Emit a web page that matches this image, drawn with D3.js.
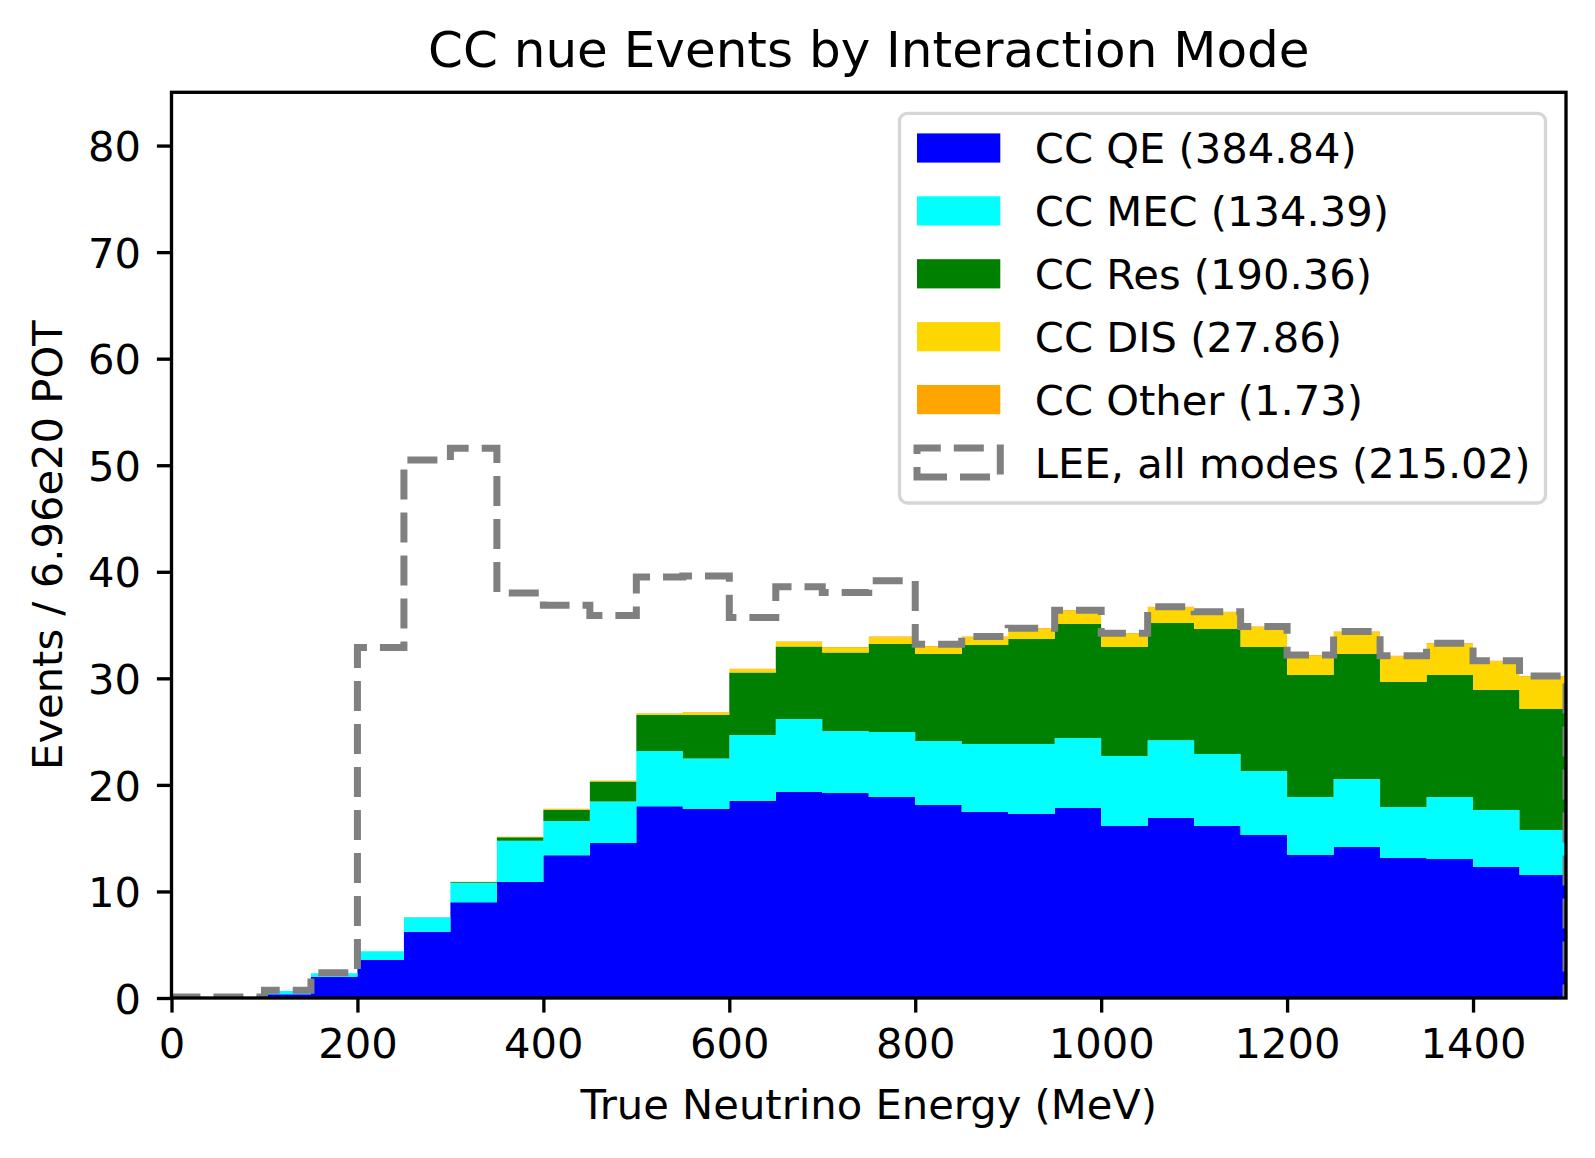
<!DOCTYPE html>
<html>
<head>
<meta charset="utf-8">
<script src="https://cdn.jsdelivr.net/npm/d3@7"></script>
<style>
  body { margin: 0; background: #fff; }
  text { font-family: "DejaVu Sans", sans-serif; fill: #000; }
</style>
</head>
<body>
<div id="chart"></div>
<script>
// bin edges (MeV), 50 MeV bins
var binLo = [0, 50, 100, 150, 200, 250, 300, 350, 400, 450, 500, 550, 600, 650, 700,
             750, 800, 850, 900, 950, 1000, 1050, 1100, 1150, 1200, 1250, 1300, 1350, 1400, 1450];
var binWidth = 50;

// events per bin for each interaction mode
var qe    = [0, 0, 0.35, 2.00, 3.57, 6.21, 8.98, 10.88, 13.40, 14.55, 18.00, 17.77, 18.52, 19.34, 19.24,
             18.87, 18.12, 17.46, 17.27, 17.83, 16.15, 16.90, 16.15, 15.30, 13.42, 14.17, 13.14, 13.05, 12.30, 11.55];
var mec   = [0, 0, 0.30, 0.32, 0.81, 1.37, 1.83, 3.88, 3.20, 3.88, 5.17, 4.70, 6.17, 6.85, 5.82,
             6.10, 6.00, 6.38, 6.57, 6.57, 6.57, 7.30, 6.75, 6.00, 5.45, 6.39, 4.79, 5.82, 5.35, 4.22];
var res   = [0, 0, 0, 0, 0, 0, 0.07, 0.33, 1.07, 1.90, 3.39, 4.09, 5.85, 6.79, 7.36,
             8.26, 8.17, 9.30, 9.86, 10.70, 10.23, 11.00, 11.74, 11.65, 11.45, 11.73, 11.73, 11.45, 11.26, 11.36];
var dis   = [0, 0, 0, 0, 0, 0, 0.01, 0.03, 0.05, 0.05, 0.11, 0.23, 0.31, 0.40, 0.46,
             0.61, 0.67, 0.70, 0.92, 1.22, 1.20, 1.45, 1.54, 1.83, 1.80, 2.02, 2.39, 2.89, 2.67, 3.02];
var other = [0, 0, 0, 0, 0, 0.02, 0.02, 0.02, 0.03, 0.03, 0.06, 0.06, 0.06, 0.07, 0.07,
             0.08, 0.08, 0.08, 0.08, 0.08, 0.08, 0.08, 0.08, 0.08, 0.08, 0.08, 0.08, 0.08, 0.08, 0.08];
// LEE excess, drawn stacked on top of all modes
var lee   = [0.10, 0.10, 0.08, 0.04, 28.52, 42.90, 40.69, 22.86, 19.10, 15.49, 12.77, 12.75, 4.79, 5.15, 5.10,
             5.25, 0.16, 0, 0, 0, 0, 0, 0, 0, 0, 0, 0, 0, 0, 0];

var modeKeys   = ["qe", "mec", "res", "dis", "other"];
var modeLabels = ["CC QE (384.84)", "CC MEC (134.39)", "CC Res (190.36)", "CC DIS (27.86)", "CC Other (1.73)"];
var leeLabel   = "LEE, all modes (215.02)";
var modeColors = ["#0000ff", "#00ffff", "#008000", "#ffd700", "#ffa500"];

var xTicks = [0, 200, 400, 600, 800, 1000, 1200, 1400];
var yTicks = [0, 10, 20, 30, 40, 50, 60, 70, 80];

// layout
var W = 1595, H = 1158;
var margin = {top: 92.3, right: 29, bottom: 160, left: 171.5},
    width = W - margin.left - margin.right,
    height = H - margin.top - margin.bottom;

var x = d3.scaleLinear().domain([0, 1500]).range([0, width]);
var y = d3.scaleLinear().domain([0, 85]).range([height, 0]);

var svg = d3.select("#chart").append("svg")
    .attr("width", W)
    .attr("height", H);

var plot = svg.append("g")
    .attr("transform", "translate(" + margin.left + "," + margin.top + ")");

plot.append("clipPath").attr("id", "clip")
  .append("rect").attr("width", width).attr("height", height);

// build table for d3.stack
var table = binLo.map(function(lo, i) {
  return {lo: lo, qe: qe[i], mec: mec[i], res: res[i], dis: dis[i], other: other[i]};
});
var series = d3.stack().keys(modeKeys)(table);

// each layer drawn as one step-shaped area
var area = d3.area()
    .curve(d3.curveStepAfter)
    .x(function(d) { return x(d.e); })
    .y0(function(d) { return y(d.v0); })
    .y1(function(d) { return y(d.v1); });

var layers = plot.append("g").attr("clip-path", "url(#clip)");

series.forEach(function(s, k) {
  var pts = s.map(function(d, i) { return {e: binLo[i], v0: d[0], v1: d[1]}; });
  var last = s[s.length - 1];
  pts.push({e: binLo[binLo.length - 1] + binWidth, v0: last[0], v1: last[1]});
  layers.append("path")
    .attr("d", area(pts))
    .attr("fill", modeColors[k])
    .attr("stroke", "none");
});

// LEE dashed step outline (total + excess)
var topSeries = series[series.length - 1];
var leePts = [{e: 0, v: 0}];
binLo.forEach(function(lo, i) {
  var v = topSeries[i][1] + lee[i];
  leePts.push({e: lo, v: v});
  leePts.push({e: lo + binWidth, v: v});
});
leePts.push({e: 1500, v: 0});

var line = d3.line()
    .x(function(d) { return x(d.e); })
    .y(function(d) { return y(d.v); });

layers.append("path")
    .attr("d", line(leePts))
    .attr("fill", "none")
    .attr("stroke", "#808080")
    .attr("stroke-width", 7)
    .attr("stroke-dasharray", "30,13")
    .attr("stroke-linejoin", "miter");

// axes
var fs = 41.67;
var xAxis = plot.append("g")
    .attr("transform", "translate(0," + height + ")")
    .call(d3.axisBottom(x).tickValues(xTicks).tickSize(14.6).tickPadding(14.6).tickFormat(d3.format("d")));
var yAxis = plot.append("g")
    .call(d3.axisLeft(y).tickValues(yTicks).tickSize(14.6).tickPadding(14.6).tickFormat(d3.format("d")));

[xAxis, yAxis].forEach(function(a) {
  a.select(".domain").remove();
  a.selectAll(".tick line").attr("stroke", "#000").attr("stroke-width", 3.33);
  a.selectAll(".tick text").style("font-size", fs + "px").style("font-family", "DejaVu Sans");
});
xAxis.selectAll(".tick text").attr("dy", null).attr("y", 14.6 + 14.6 + 30.4);
yAxis.selectAll(".tick text").attr("dy", null).attr("y", 15.2).attr("x", -30.5);

// frame
plot.append("rect")
    .attr("width", width)
    .attr("height", height)
    .attr("fill", "none")
    .attr("stroke", "#000")
    .attr("stroke-width", 3.33);

// labels
svg.append("text")
    .attr("x", margin.left + width / 2)
    .attr("y", 67.3)
    .attr("text-anchor", "middle")
    .style("font-size", "50px")
    .text("CC nue Events by Interaction Mode");

svg.append("text")
    .attr("x", margin.left + width / 2)
    .attr("y", 1118.5)
    .attr("text-anchor", "middle")
    .style("font-size", fs + "px")
    .text("True Neutrino Energy (MeV)");

svg.append("text")
    .attr("transform", "translate(62.3," + (margin.top + height / 2) + ") rotate(-90)")
    .attr("text-anchor", "middle")
    .style("font-size", fs + "px")
    .text("Events / 6.96e20 POT");

// legend
var legend = svg.append("g");
legend.append("rect")
    .attr("x", 899.5).attr("y", 113.3)
    .attr("width", 646).attr("height", 389.7)
    .attr("rx", 8).attr("ry", 8)
    .attr("fill", "#fff").attr("fill-opacity", 0.8)
    .attr("stroke", "#d6d6d6").attr("stroke-width", 3.33);

var rowY = [148, 210.9, 273.8, 336.7, 399.6, 462.5];
modeLabels.forEach(function(lab, k) {
  legend.append("rect")
      .attr("x", 917).attr("y", rowY[k] - 14.6)
      .attr("width", 83.3).attr("height", 29.2)
      .attr("fill", modeColors[k]);
  legend.append("text")
      .attr("x", 1034.8).attr("y", rowY[k] + 15.2)
      .style("font-size", fs + "px")
      .text(lab);
});
var ly = rowY[5];
legend.append("path")
    .attr("d", "M917," + (ly + 14.6) + "H1000.3V" + (ly - 14.6) + "H917Z")
    .attr("fill", "none")
    .attr("stroke", "#808080")
    .attr("stroke-width", 7)
    .attr("stroke-dasharray", "30,13");
legend.append("text")
    .attr("x", 1034.8).attr("y", ly + 15.2)
    .style("font-size", fs + "px")
    .text(leeLabel);
</script>
</body>
</html>
